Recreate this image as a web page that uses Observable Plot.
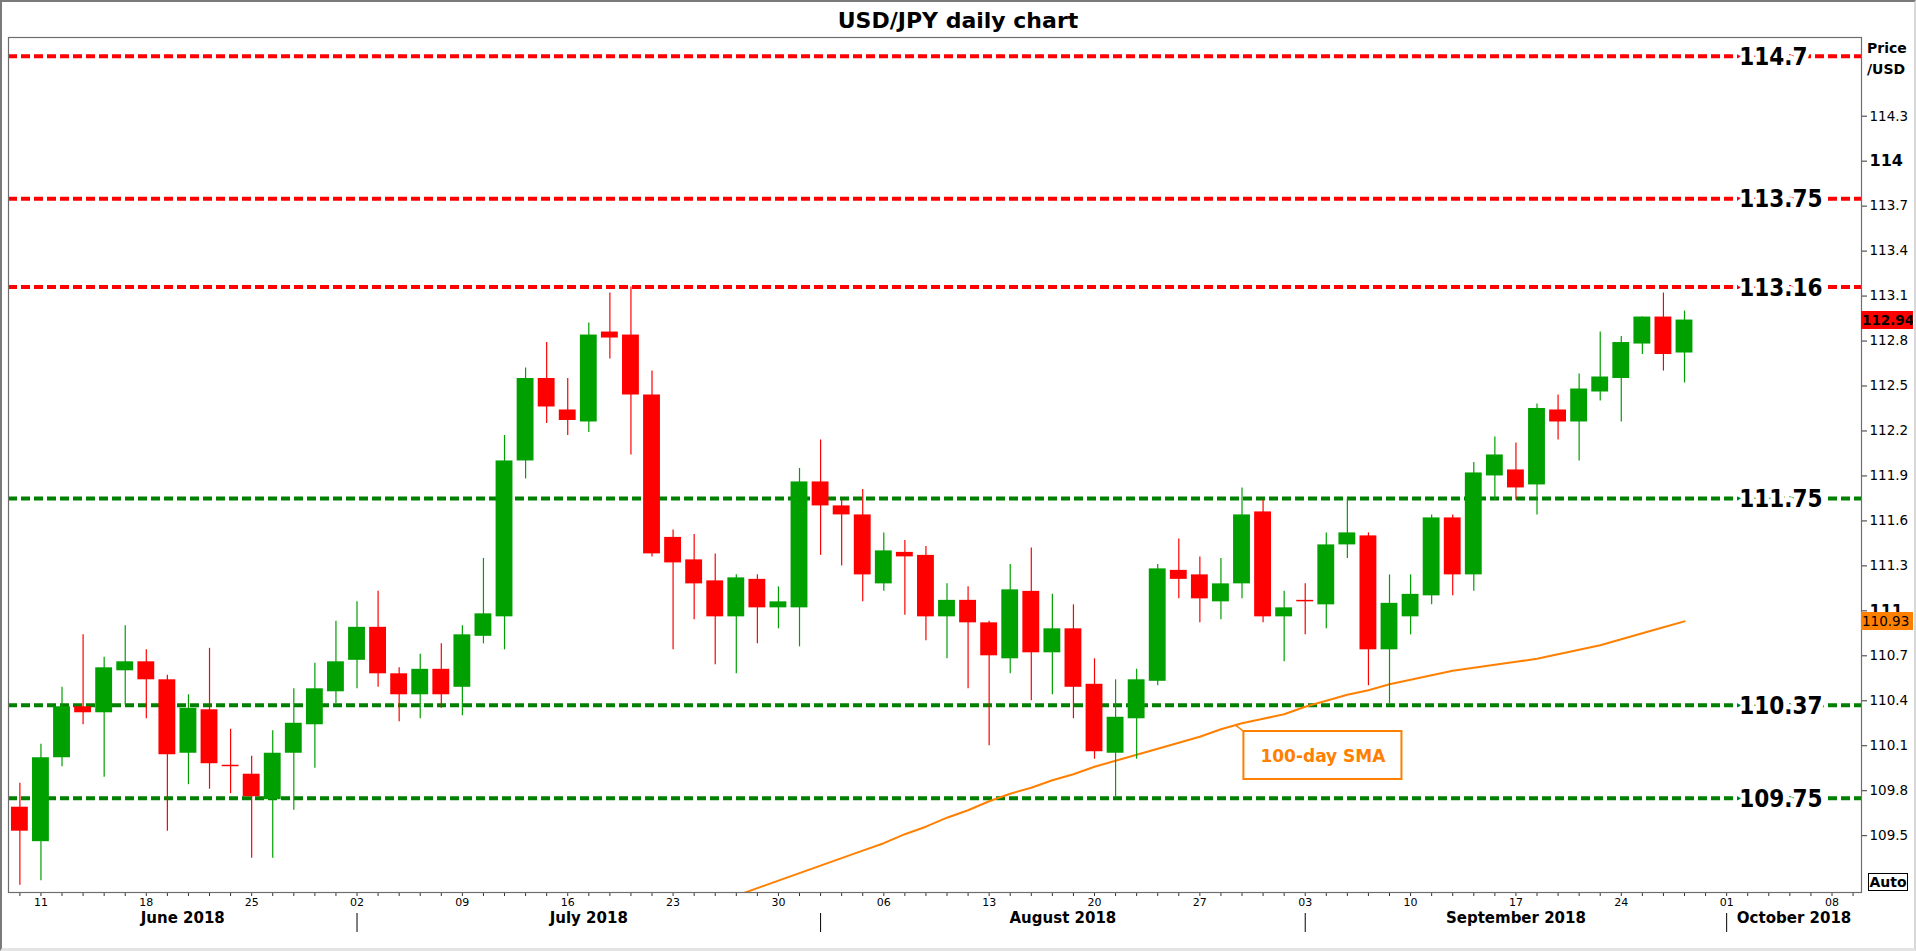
<!DOCTYPE html>
<html>
<head>
<meta charset="utf-8">
<script src="https://cdn.jsdelivr.net/npm/d3@7"></script>
<script src="https://cdn.jsdelivr.net/npm/@observablehq/plot@0.6"></script>
<style>
html, body { margin: 0; padding: 0; background: #fff; }
#wrap { position: relative; width: 1916px; height: 951px; overflow: hidden; font-family: "DejaVu Sans", sans-serif; background: #fff; }
#wrap svg { position: absolute; left: 0; top: 0; }
#border { position: absolute; left: 0; top: 0; width: 1916px; height: 951px; box-sizing: border-box;
  border-left: 2px solid #7a7a7a; border-top: 2px solid #7a7a7a; border-right: 2px solid #d8d8d8; border-bottom: 3px solid #e4e4e4; pointer-events: none; }
#title { position: absolute; left: 0; top: 6px; width: 1916px; text-align: center; font-weight: bold; font-size: 22px; line-height: 30px; color: #000; }
#pricelbl { position: absolute; left: 1867px; top: 38px; font-weight: bold; font-size: 14px; line-height: 21px; color: #000; }
#auto { position: absolute; left: 1868px; top: 873px; width: 40px; height: 18px; box-sizing: border-box; border: 1px solid #000; font-weight: bold; font-size: 14px; line-height: 16px; text-align: center; background: #fff; }
.tag { position: absolute; left: 1861px; width: 52px; height: 18px; overflow: hidden; white-space: nowrap; line-height: 18px; padding-left: 1px; box-sizing: border-box; color: #000; }
</style>
</head>
<body>
<div id="wrap">
  <div id="title">USD/JPY daily chart</div>
  <div id="pricelbl">Price<br>/USD</div>
  <div id="auto">Auto</div>
  <div id="border"></div>
</div>
<script>
// ---------- DATA ----------
const dates = [
  "2018-06-08",
  "2018-06-11","2018-06-12","2018-06-13","2018-06-14","2018-06-15",
  "2018-06-18","2018-06-19","2018-06-20","2018-06-21","2018-06-22",
  "2018-06-25","2018-06-26","2018-06-27","2018-06-28","2018-06-29",
  "2018-07-02","2018-07-03","2018-07-04","2018-07-05","2018-07-06",
  "2018-07-09","2018-07-10","2018-07-11","2018-07-12","2018-07-13",
  "2018-07-16","2018-07-17","2018-07-18","2018-07-19","2018-07-20",
  "2018-07-23","2018-07-24","2018-07-25","2018-07-26","2018-07-27",
  "2018-07-30","2018-07-31","2018-08-01","2018-08-02","2018-08-03",
  "2018-08-06","2018-08-07","2018-08-08","2018-08-09","2018-08-10",
  "2018-08-13","2018-08-14","2018-08-15","2018-08-16","2018-08-17",
  "2018-08-20","2018-08-21","2018-08-22","2018-08-23","2018-08-24",
  "2018-08-27","2018-08-28","2018-08-29","2018-08-30","2018-08-31",
  "2018-09-03","2018-09-04","2018-09-05","2018-09-06","2018-09-07",
  "2018-09-10","2018-09-11","2018-09-12","2018-09-13","2018-09-14",
  "2018-09-17","2018-09-18","2018-09-19","2018-09-20","2018-09-21",
  "2018-09-24","2018-09-25","2018-09-26","2018-09-27"
];
const opens = [
  109.69,
  109.46,110.02,110.36,110.32,110.60,
  110.66,110.54,110.05,110.34,109.97,
  109.91,109.74,110.05,110.24,110.46,
  110.67,110.89,110.58,110.44,110.61,
  110.49,110.83,110.96,112.00,112.55,
  112.34,112.26,112.86,112.84,112.44,
  111.49,111.34,111.20,110.96,111.21,
  111.02,111.02,111.86,111.70,111.64,
  111.18,111.39,111.37,110.96,111.07,
  110.92,110.68,111.13,110.72,110.88,
  110.51,110.05,110.28,110.53,111.27,
  111.24,111.06,111.18,111.66,110.96,
  111.07,111.04,111.44,111.50,110.74,
  110.96,111.10,111.62,111.24,111.90,
  111.94,111.84,112.34,112.26,112.46,
  112.55,112.78,112.96,112.72
];
const highs = [
  109.85,
  110.11,110.49,110.84,110.69,110.90,
  110.74,110.57,110.44,110.75,110.21,
  110.03,110.20,110.48,110.65,110.93,
  111.06,111.13,110.62,110.71,110.78,
  110.90,111.35,112.17,112.62,112.79,
  112.55,112.92,113.12,113.16,112.60,
  111.54,111.51,111.38,111.24,111.24,
  111.16,111.95,112.14,111.74,111.81,
  111.52,111.47,111.43,111.18,111.16,
  110.93,111.31,111.42,111.11,111.04,
  110.68,110.54,110.61,111.31,111.48,
  111.36,111.35,111.82,111.74,111.13,
  111.18,111.52,111.75,111.52,111.24,
  111.24,111.64,111.64,111.99,112.16,
  112.12,112.38,112.44,112.58,112.86,
  112.83,112.96,113.12,113.00
];
const lows = [
  109.17,
  109.20,109.96,110.24,109.89,110.37,
  110.28,109.53,109.84,109.81,109.78,
  109.35,109.35,109.67,109.95,110.38,
  110.48,110.49,110.26,110.28,110.35,
  110.30,110.78,110.74,111.88,112.25,
  112.17,112.19,112.68,112.04,111.36,
  110.74,110.94,110.64,110.58,110.78,
  110.88,110.76,111.37,111.30,111.06,
  111.13,110.97,110.80,110.68,110.48,
  110.10,110.58,110.40,110.44,110.28,
  110.01,109.75,110.01,110.50,111.08,
  110.92,110.94,111.08,110.92,110.66,
  110.84,110.88,111.35,110.50,110.38,
  110.84,111.04,111.10,111.13,111.74,
  111.74,111.64,112.14,112.00,112.40,
  112.26,112.71,112.60,112.52
];
const closes = [
  109.53,
  110.02,110.36,110.32,110.62,110.66,
  110.54,110.04,110.35,109.98,109.96,
  109.76,110.05,110.25,110.48,110.66,
  110.89,110.58,110.44,110.61,110.44,
  110.84,110.98,112.00,112.55,112.36,
  112.27,112.84,112.82,112.44,111.38,
  111.32,111.18,110.96,111.22,111.02,
  111.06,111.86,111.70,111.64,111.24,
  111.40,111.36,110.96,111.07,110.92,
  110.70,111.14,110.72,110.88,110.49,
  110.06,110.29,110.54,111.28,111.21,
  111.08,111.18,111.64,110.96,111.02,
  111.06,111.44,111.52,110.74,111.05,
  111.11,111.62,111.24,111.92,112.04,
  111.82,112.35,112.26,112.48,112.56,
  112.79,112.96,112.71,112.94
];
// 100-day SMA, first value belongs to trading day index smaStart
const smaStart = 34;
const smaValues = [
  109.10,109.15,109.20,109.25,109.30,109.35,109.40,
  109.45,109.51,109.56,109.62,109.67,
  109.73,109.78,109.82,109.87,109.91,
  109.96,110.00,110.04,110.08,110.12,
  110.16,110.21,110.25,110.28,110.31,
  110.36,110.40,110.44,110.47,110.51,
  110.54,110.57,110.60,110.62,110.64,
  110.66,110.68,110.71,110.74,110.77,
  110.81,110.85,110.89,110.93
];
const levelValues = [114.7, 113.75, 113.16, 111.75, 110.37, 109.75];
const levelLabels = ["114.7", "113.75", "113.16", "111.75", "110.37", "109.75"];
const levelKinds  = ["res", "res", "res", "sup", "sup", "sup"];

const yTicks = [114.3, 113.7, 113.4, 113.1, 112.8, 112.5, 112.2, 111.9, 111.6, 111.3, 110.7, 110.4, 110.1, 109.8, 109.5];
const yTicksMajor = [114, 111];

const dayTickIdx    = [1, 6, 11, 16, 21, 26, 31, 36, 41, 46, 51, 56, 61, 66, 71, 76, 81, 86];
const dayTickLabels = ["11","18","25","02","09","16","23","30","06","13","20","27","03","10","17","24","01","08"];
const monthNames    = ["June 2018", "July 2018", "August 2018", "September 2018", "October 2018"];
const monthStartIdx = [16, 38, 61, 81];

const smaNoteText = "100-day SMA";

// ---------- LAYOUT / STYLE ----------
const W = 1916, H = 951;
const xDomain = [-0.54, 87.4];
const yDomain = [109.121, 114.825];
const GREEN = "#00a000", RED = "#ff0000", ORANGE = "#ff8000";
const LEVEL_COLORS = {res: "#ff0000", sup: "#008000"};
const labelX = 81.6;
const note = {x1: 58.09, x2: 65.59, y1: 109.875, y2: 110.195, px: 57.7, py: 110.236};

const candles = dates.map((d, i) => ({i, date: d, open: opens[i], high: highs[i], low: lows[i], close: closes[i]}));
const sma = smaValues.map((v, k) => ({i: smaStart + k, v}));
const levels = levelValues.map((v, k) => ({v, label: levelLabels[k], kind: levelKinds[k]}));
const bounds = [xDomain[0], ...monthStartIdx, xDomain[1]];
const months = monthNames.map((m, k) => ({name: m, x: (bounds[k] + bounds[k + 1]) / 2}));
const candleColor = d => d.close >= d.open ? GREEN : RED;

const chart = Plot.plot({
  width: W, height: H,
  marginLeft: 8, marginRight: 55, marginTop: 37, marginBottom: 59,
  x: {type: "linear", domain: xDomain, axis: null},
  y: {type: "linear", domain: yDomain, axis: null},
  style: {fontFamily: "'DejaVu Sans', sans-serif", background: "transparent", overflow: "visible"},
  marks: [
    // support / resistance levels
    Plot.ruleY(levels, {y: "v", stroke: d => LEVEL_COLORS[d.kind], strokeWidth: 4, strokeDasharray: "9,4"}),
    // 100-day SMA
    Plot.line(sma, {x: "i", y: "v", stroke: ORANGE, strokeWidth: 2, clip: true}),
    // candles
    Plot.ruleX(candles, {x: "i", y1: "low", y2: "high", stroke: candleColor, strokeWidth: 1.2}),
    Plot.rect(candles, {x1: d => d.i - 0.4, x2: d => d.i + 0.4, y1: "open", y2: "close", fill: candleColor}),
    // level labels with white halo
    Plot.text(levels, {x: () => labelX, y: "v", text: "label", textAnchor: "start", dy: 1,
      fontFamily: "'DejaVu Sans Condensed', 'DejaVu Sans', sans-serif", fontStretch: "condensed",
      fontWeight: "bold", fontSize: 24, fill: "#000", stroke: "#fff", strokeWidth: 10, paintOrder: "stroke", strokeLinejoin: "round"}),
    // SMA annotation
    Plot.link([note], {x1: "px", y1: "py", x2: "x1", y2: "y2", stroke: ORANGE, strokeWidth: 1.5}),
    Plot.rect([note], {x1: "x1", x2: "x2", y1: "y1", y2: "y2", fill: "#fff", stroke: ORANGE, strokeWidth: 2}),
    Plot.text([note], {x: d => (d.x1 + d.x2) / 2, y: d => (d.y1 + d.y2) / 2, text: () => smaNoteText,
      fill: ORANGE, fontWeight: "bold", fontSize: 17, dy: 1}),
    // right axis
    Plot.axisY(yTicks, {anchor: "right", tickSize: 5, tickPadding: 3, fontSize: 13.5, label: null,
      tickFormat: d => String(d), stroke: "#333"}),
    Plot.axisY(yTicksMajor, {anchor: "right", tickSize: 5, tickPadding: 3, fontSize: 16, fontWeight: "bold",
      label: null, tickFormat: d => String(d), stroke: "#333"}),
    // bottom axis: daily ticks, weekly labels, months
    Plot.axisX(d3.range(0, 88), {anchor: "bottom", tickSize: 4, tickFormat: () => "", label: null, stroke: "#333"}),
    Plot.text(dayTickIdx, {x: d => d, text: (d, k) => dayTickLabels[k], frameAnchor: "bottom", dy: 13, fontSize: 11, fill: "#000"}),
    Plot.text(months, {x: "x", text: "name", frameAnchor: "bottom", dy: 30, fontSize: 15, fontWeight: "bold", fill: "#000"}),
    Plot.ruleX(monthStartIdx, {x: d => d, insetTop: 876, insetBottom: -40, stroke: "#000", strokeWidth: 1}),
    Plot.frame({stroke: "#6e6e6e", strokeWidth: 1.2})
  ]
});

const wrap = document.getElementById("wrap");
wrap.insertBefore(chart, document.getElementById("title"));

// current-value tags placed through the plot's y scale
const ys = chart.scale("y");
function tag(value, text, bg, bold, size) {
  const el = document.createElement("div");
  el.className = "tag";
  el.textContent = text;
  el.style.top = (ys.apply(value) - 9) + "px";
  el.style.background = bg;
  el.style.fontWeight = bold ? "bold" : "normal";
  el.style.fontSize = size + "px";
  wrap.insertBefore(el, document.getElementById("border"));
}
tag(smaValues[smaValues.length - 1], smaValues[smaValues.length - 1].toFixed(2), ORANGE, false, 13.5);
tag(closes[closes.length - 1], closes[closes.length - 1].toFixed(2), RED, true, 13.5);
</script>
</body>
</html>
